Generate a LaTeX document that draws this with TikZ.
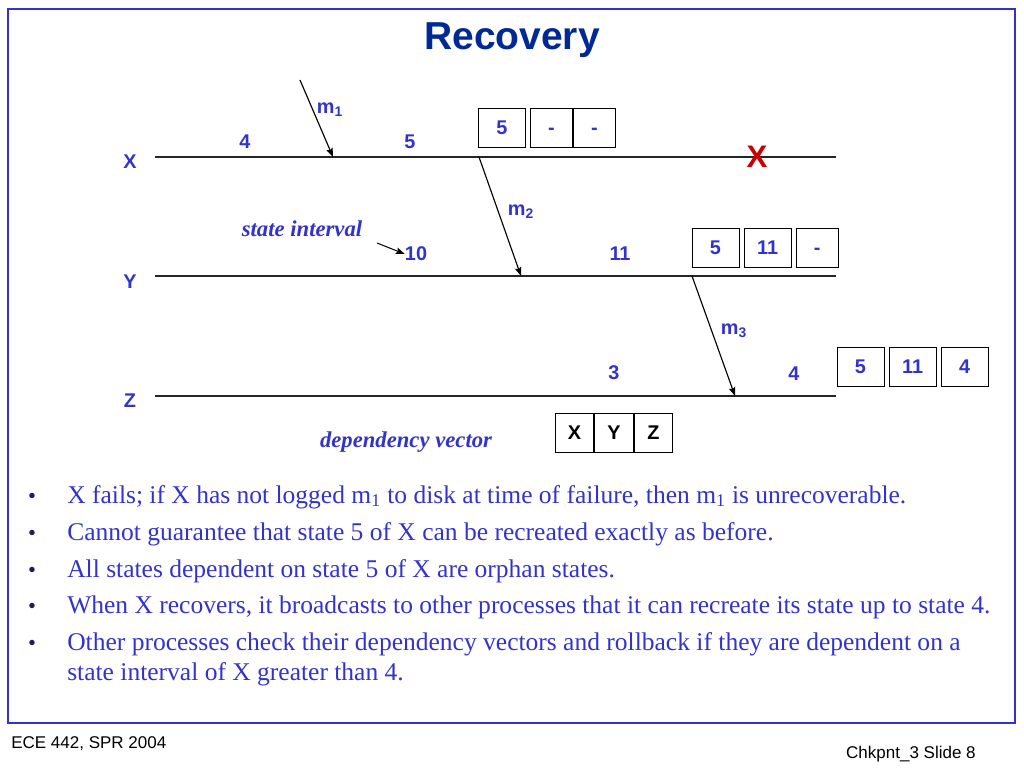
\documentclass[tikz,border=0pt]{standalone}
\usepackage{fontspec}
\setmainfont{Liberation Serif}
\setsansfont{Liberation Sans}
\usepackage{xcolor}
\definecolor{colorText}{RGB}{51,51,204}
\definecolor{colorTitle}{RGB}{0,40,150}
\definecolor{colorFail}{RGB}{204,0,0}
\definecolor{colorBullet}{RGB}{30,30,90}
\usetikzlibrary{arrows.meta, positioning}

\begin{document}
\begin{tikzpicture}[x=0.0248cm, y=-0.0248cm, >={Stealth[length=6.2pt, width=4.6pt, inset=1pt]},
  every node/.style={inner sep=0pt},
  lbl/.style={font=\sffamily\bfseries\fontsize{14}{17}\selectfont, text=colorText},
  vecbox/.style={draw, line width=0.7pt, minimum width=1.166cm, minimum height=0.967cm, text height=10pt, text depth=0pt, font=\sffamily\bfseries\fontsize{14}{17}\selectfont, text=colorText},
  dashbox/.style={vecbox, minimum width=1.04cm},
  depbox/.style={vecbox, minimum width=0.955cm, text=black},
  procline/.style={line width=0.9pt, black!85},
  msg/.style={->, line width=0.8pt},
  note/.style={font=\rmfamily\bfseries\itshape\fontsize{16}{19}\selectfont, text=colorText},
  bullettext/.style={anchor=base west, font=\rmfamily\fontsize{18}{21.1}\selectfont, text=colorText},
  bulletdot/.style={anchor=base, font=\rmfamily\fontsize{16}{19}\selectfont, text=colorBullet}]
\useasboundingbox (0,0) rectangle (1024,768);
\draw[colorText, line width=1.4pt] (8,9) rectangle (1015,723);
\node[anchor=base, font=\sffamily\bfseries\fontsize{27.5}{32}\selectfont, text=colorTitle] (title) at (512,50) {Recovery};

% processes
\node[lbl] (px) at (130,162) {X};
\node[lbl] (py) at (130,282) {Y};
\node[lbl] (pz) at (130,401) {Z};
\coordinate (xs) at (155,157); \coordinate (xe) at (836,157);
\coordinate (ys) at (155,276); \coordinate (ye) at (836,276);
\coordinate (zs) at (155,396); \coordinate (ze) at (836,396);
\draw[procline] (xs) -- (xe);
\draw[procline] (ys) -- (ye);
\draw[procline] (zs) -- (ze);

% state intervals
\node[lbl] (x4) at (245,142) {4};
\node[lbl] (x5) at (410,142) {5};
\node[lbl] (y10) at (416,254) {10};
\node[lbl] (y11) at (620,254) {11};
\node[lbl] (z3) at (614,373) {3};
\node[lbl] (z4) at (794,374) {4};
\node[font=\sffamily\bfseries\fontsize{22}{26}\selectfont, text=colorFail] (fail) at (757,157) {X};

% messages
\coordinate (m1s) at (300,80); \coordinate (m1e) at (333,157);
\coordinate (m2s) at (479,157); \coordinate (m2e) at (521,276);
\coordinate (m3s) at (692,276); \coordinate (m3e) at (735,396);
\draw[msg] (m1s) -- (m1e);
\draw[msg] (m2s) -- (m2e);
\draw[msg] (m3s) -- (m3e);
\node[lbl] (m1) at (330,110) {m\textsubscript{1}};
\node[lbl] (m2) at (521,212) {m\textsubscript{2}};
\node[lbl] (m3) at (734,331) {m\textsubscript{3}};

% dependency vectors
\node[vecbox] (xv1) at (502,127.5) {5};
\node[dashbox, right=0.1cm of xv1] (xv2) {-};
\node[dashbox, right=0pt of xv2] (xv3) {-};
\node[vecbox] (yv1) at (715.5,247.5) {5};
\node[vecbox, right=0.1cm of yv1] (yv2) {11};
\node[dashbox, right=0.1cm of yv2] (yv3) {-};
\node[vecbox] (zv1) at (860.5,366.5) {5};
\node[vecbox, right=0.1cm of zv1] (zv2) {11};
\node[vecbox, right=0.1cm of zv2] (zv3) {4};
\node[depbox] (dvx) at (574.5,432.5) {X};
\node[depbox, right=0pt of dvx] (dvy) {Y};
\node[depbox, right=0pt of dvy] (dvz) {Z};

\node[note] (si) at (302,229) {state interval};
\coordinate (siarr) at (377,243);
\draw[->, line width=0.7pt] (siarr) -- (y10.west);
\node[note] (dv) at (406,442) {dependency vector};

% bullets
\foreach \y in {503,540,577,613,650} \node[bulletdot] at (32,\y) {•};
\node[bullettext] (b1) at (67,503) {X fails; if X has not logged m\textsubscript{1} to disk at time of failure, then m\textsubscript{1} is unrecoverable.};
\node[bullettext] (b2) at (67,540) {Cannot guarantee that state 5 of X can be recreated exactly as before.};
\node[bullettext] (b3) at (67,577) {All states dependent on state 5 of X are orphan states.};
\node[bullettext] (b4) at (67,613) {When X recovers, it broadcasts to other processes that it can recreate its state up to state 4.};
\node[bullettext] (b5) at (67,650) {Other processes check their dependency vectors and rollback if they are dependent on a};
\node[bullettext] (b5b) at (67,680) {state interval of X greater than 4.};

% footer
\node[anchor=base west, font=\sffamily\fontsize{12}{14}\selectfont] (foot1) at (11,748) {ECE 442, SPR 2004};
\node[anchor=base east, font=\sffamily\fontsize{12}{14}\selectfont] (foot2) at (976,758) {Chkpnt\_3 Slide 8};
\end{tikzpicture}
\end{document}
